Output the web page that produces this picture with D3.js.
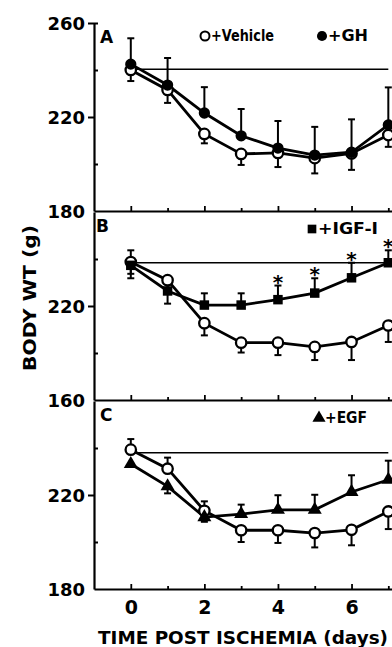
<!DOCTYPE html>
<html>
<head>
<meta charset="utf-8">
<script src="https://cdn.jsdelivr.net/npm/d3@7/dist/d3.min.js"></script>
<style>
  html, body { margin: 0; padding: 0; background: #fff; }
  svg { display: block; }
  text { font-family: 'DejaVu Sans', sans-serif; font-weight: bold; fill: #000; }
</style>
</head>
<body>
<div id="chart"></div>
<script>
const days = [0, 1, 2, 3, 4, 5, 6, 7];

// panel A: vehicle vs GH
const vehicleA = [240, 231.5, 212.8, 204.3, 204.7, 202.5, 204.5, 212.3];
const vehicleAUp = [0, 0, 0, 0, 0, 0, 0, 0];
const vehicleADown = [4.7, 5.5, 4, 4.7, 6, 6.5, 7, 5];
const ghA = [242.5, 233.6, 221.7, 212, 206.8, 203.8, 205, 216.6];
const ghAUp = [11, 11.5, 11, 11.4, 11.5, 12, 14, 16];
const ghADown = [0, 0, 0, 0, 0, 0, 0, 0];

// panel B: vehicle vs IGF-I
const vehicleB = [238.7, 231, 212.7, 204.4, 204.4, 202.6, 204.7, 211.7];
const vehicleBUp = [0, 0, 0, 0, 0, 0, 0, 0];
const vehicleBDown = [5, 4, 5.2, 4.2, 5.3, 5.6, 7.7, 7];
const igfB = [237.3, 226.4, 220.4, 220.4, 222.7, 225.5, 232, 238.4];
const igfBUp = [6.4, 6, 5, 5, 6, 6.3, 6.4, 5.3];
const igfBDown = [5.5, 5.4, 0, 0, 0, 0, 0, 0];
const starDaysB = [4, 5, 6, 7];

// panel C: vehicle vs EGF
const vehicleC = [239.3, 231.2, 213.3, 205, 205, 203.8, 205.2, 213];
const vehicleCUp = [4.5, 4.7, 4, 0, 0, 0, 0, 0];
const vehicleCDown = [0, 0, 0, 5, 5.4, 6.1, 6.6, 7.5];
const egfC = [233.2, 223.7, 210.6, 211.9, 213.7, 213.7, 221.3, 226.5];
const egfCUp = [0, 0, 0, 4, 6.2, 6.4, 7.1, 8.1];
const egfCDown = [0, 3, 2, 0, 0, 0, 0, 0];

// starting weight reference lines
const baselines = [240.3, 238.4, 238];

const panelLetters = ['A', 'B', 'C'];
const yTickValues = [[260, 220, 180], [220, 180], [220, 180]];
const yTickLabels = [['260', '220', '180'], ['220', '160'], ['220', '180']];
const xTickLabels = ['0', '2', '4', '6'];

const width = 392;
const height = 647;
const axisX = 94;
const panelTops = [23, 212, 401];
const panelH = 188;

const svg = d3.select('#chart').append('svg')
  .attr('width', width)
  .attr('height', height);

const x = d3.scaleLinear().domain([-1, 7.1]).range([axisX, 392]);

const panels = [
  {
    vehicle: [vehicleA, vehicleAUp, vehicleADown],
    drug: [ghA, ghAUp, ghADown],
    symbol: d3.symbolCircle, size: 100, legend: '+GH', stars: []
  },
  {
    vehicle: [vehicleB, vehicleBUp, vehicleBDown],
    drug: [igfB, igfBUp, igfBDown],
    symbol: d3.symbolSquare, size: 90, legend: '+IGF-I', stars: starDaysB
  },
  {
    vehicle: [vehicleC, vehicleCUp, vehicleCDown],
    drug: [egfC, egfCUp, egfCDown],
    symbol: d3.symbolTriangle, size: 85, legend: '+EGF', stars: []
  }
];

function drawErrors(g, y, vals, up, down) {
  const capW = 3.5;
  days.forEach((d, i) => {
    [[up[i], 1], [down[i], -1]].forEach(([e, s]) => {
      if (!e) return;
      const yEnd = y(vals[i] + s * e);
      g.append('line')
        .attr('x1', x(d)).attr('x2', x(d))
        .attr('y1', y(vals[i])).attr('y2', yEnd)
        .attr('stroke', '#000').attr('stroke-width', 2);
      g.append('line')
        .attr('x1', x(d) - capW).attr('x2', x(d) + capW)
        .attr('y1', yEnd).attr('y2', yEnd)
        .attr('stroke', '#000').attr('stroke-width', 2);
    });
  });
}

panels.forEach((p, k) => {
  const top = panelTops[k];
  const y = d3.scaleLinear().domain([180, 260]).range([top + panelH, top]);
  const g = svg.append('g');

  // left axis, labelled ticks pointing out
  const labels = yTickLabels[k];
  const values = yTickValues[k];
  const left = g.append('g')
    .attr('transform', `translate(${axisX},0)`)
    .call(d3.axisLeft(y)
      .tickValues(values)
      .tickSize(6)
      .tickSizeOuter(0)
      .tickPadding(3)
      .tickFormat((v) => labels[values.indexOf(v)]));
  left.select('.domain').attr('stroke-width', 2.2);
  left.selectAll('.tick line').attr('stroke-width', 2);
  left.selectAll('.tick text')
    .style('font-size', '18px')
    .attr('dy', '0.36em');
  left.selectAll('.tick')
    .filter((v) => v === 180)
    .select('line').remove();

  // minor ticks pointing in
  const minor = k === 0 ? [260, 240, 200] : [240, 200];
  const right = g.append('g')
    .attr('transform', `translate(${axisX},0)`)
    .call(d3.axisRight(y).tickValues(minor).tickSize(4).tickFormat(''));
  right.select('.domain').remove();
  right.selectAll('.tick line').attr('stroke-width', 2);

  // bottom axis with ticks pointing up
  const bottom = g.append('g')
    .attr('transform', `translate(0,${top + panelH})`)
    .call(d3.axisBottom(x)
      .tickValues(days)
      .tickSize(-5)
      .tickSizeOuter(0)
      .tickPadding(12)
      .tickFormat((d) => (k === 2 && d % 2 === 0 ? xTickLabels[d / 2] : '')));
  bottom.select('.domain').attr('stroke-width', 2.2);
  bottom.selectAll('.tick line')
    .attr('stroke-width', 1.8)
    .attr('y2', (d) => (d % 2 === 0 ? -5 : -3));
  bottom.selectAll('.tick text').style('font-size', '19px');

  // starting weight line
  g.append('line')
    .attr('x1', x(0)).attr('x2', x(7))
    .attr('y1', y(baselines[k])).attr('y2', y(baselines[k]))
    .attr('stroke', '#000').attr('stroke-width', 1.5);

  const line = d3.line().x((d, i) => x(days[i])).y((d) => y(d));

  [p.vehicle, p.drug].forEach(([vals, up, down]) => {
    drawErrors(g, y, vals, up, down);
  });
  [p.vehicle, p.drug].forEach(([vals]) => {
    g.append('path')
      .attr('d', line(vals))
      .attr('fill', 'none')
      .attr('stroke', '#000')
      .attr('stroke-width', 2.8);
  });

  // vehicle: open circles
  g.selectAll('.veh')
    .data(p.vehicle[0])
    .join('circle')
    .attr('cx', (d, i) => x(days[i]))
    .attr('cy', (d) => y(d))
    .attr('r', 5.2)
    .attr('fill', '#fff')
    .attr('stroke', '#000')
    .attr('stroke-width', 2.3);

  // treatment: filled symbols
  g.selectAll('.drug')
    .data(p.drug[0])
    .join('path')
    .attr('d', d3.symbol().type(p.symbol).size(p.size))
    .attr('transform', (d, i) => `translate(${x(days[i])},${y(d)})`)
    .attr('fill', '#000');

  // significance stars
  p.stars.forEach((d) => {
    const i = days.indexOf(d);
    g.append('text')
      .attr('x', x(d))
      .attr('y', y(p.drug[0][i] + p.drug[1][i]) + 3)
      .attr('text-anchor', 'middle')
      .style('font-size', '20px')
      .text('*');
  });

  // panel letter
  g.append('text')
    .attr('x', k === 1 ? 96 : 100)
    .attr('y', top + 20)
    .style('font-size', '17px')
    .text(panelLetters[k]);

  // legend
  if (k === 0) {
    g.append('circle')
      .attr('cx', 205).attr('cy', top + 13).attr('r', 4.5)
      .attr('fill', '#fff').attr('stroke', '#000').attr('stroke-width', 2);
    g.append('text')
      .attr('x', 211).attr('y', top + 18)
      .attr('textLength', 63).attr('lengthAdjust', 'spacingAndGlyphs')
      .style('font-size', '15px')
      .text('+Vehicle');
    g.append('path')
      .attr('d', d3.symbol().type(p.symbol).size(80))
      .attr('transform', `translate(322,${top + 13})`);
    g.append('text')
      .attr('x', 328).attr('y', top + 18)
      .attr('textLength', 40).attr('lengthAdjust', 'spacingAndGlyphs')
      .style('font-size', '15px')
      .text(p.legend);
  } else {
    const lx = k === 1 ? 312 : 319;
    g.append('path')
      .attr('d', d3.symbol().type(p.symbol).size(75))
      .attr('transform', `translate(${lx},${top + 17})`);
    g.append('text')
      .attr('x', lx + 6).attr('y', top + 22)
      .attr('textLength', k === 1 ? 60 : 42).attr('lengthAdjust', 'spacingAndGlyphs')
      .style('font-size', '15px')
      .text(p.legend);
  }
});

// axis titles
svg.append('text')
  .attr('transform', 'translate(36,298) rotate(-90)')
  .attr('text-anchor', 'middle')
  .attr('textLength', 146).attr('lengthAdjust', 'spacingAndGlyphs')
  .style('font-size', '17px')
  .text('BODY WT (g)');

svg.append('text')
  .attr('x', 243)
  .attr('y', 644)
  .attr('text-anchor', 'middle')
  .attr('textLength', 290).attr('lengthAdjust', 'spacingAndGlyphs')
  .style('font-size', '18px')
  .text('TIME POST ISCHEMIA (days)');
</script>
</body>
</html>
